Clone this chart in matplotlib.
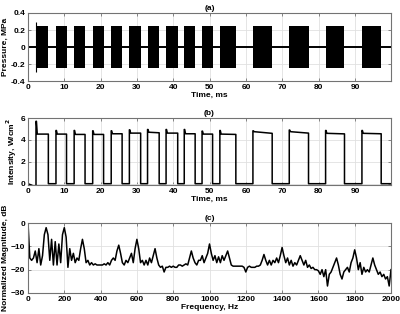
import numpy as np
import matplotlib
matplotlib.use("Agg")
import matplotlib.pyplot as plt

# ---------------- data ----------------
# pulse timing (ms)
pulse_start = [2.2, 7.7, 12.7, 17.8, 22.9, 27.9, 32.9, 38.0, 43.0, 47.9, 52.8, 61.9, 71.9, 81.9, 91.9]
pulse_end = [5.6, 10.6, 15.7, 20.8, 25.9, 31.0, 36.1, 41.2, 46.0, 50.8, 57.2, 67.2, 77.2, 87.1, 97.2]
# pressure amplitude (MPa)
pressure_amp = [0.25] * 15
pressure_spike_t = [2.2]
pressure_spike_amp = [0.29]
# intensity (W/cm^2): overshoot at onset, level just after, level at end
int_peak = [5.7, 4.86, 4.86, 4.83, 4.83, 4.92, 4.95, 4.95, 4.95, 4.8, 4.86, 4.83, 4.9, 4.86, 4.86]
int_level = [4.53, 4.53, 4.5, 4.5, 4.56, 4.62, 4.7, 4.62, 4.56, 4.53, 4.53, 4.75, 4.75, 4.6, 4.6]
int_end = [4.53, 4.53, 4.5, 4.5, 4.56, 4.62, 4.65, 4.62, 4.56, 4.53, 4.5, 4.6, 4.62, 4.55, 4.56]

# spectrum (Hz, dB)
freq = np.arange(0, 2001, 10)
mag = [
    0, -15, -16, -15, -12, -17, -11, -18, -14, -5,
    -2, -5, -16, -7, -18, -8, -18, -9, -17, -5,
    -2, -6, -19, -11, -16, -13, -17, -15, -16, -11,
    -7, -11, -17, -16, -18, -17, -18, -17.5, -18, -18,
    -18, -18, -17.5, -18, -17, -18, -16, -15, -16, -12,
    -9.5, -13, -17, -18, -16, -17, -15, -13, -17, -11,
    -7, -11, -17, -16, -18, -16, -18, -15, -17, -14,
    -11, -15, -18, -19, -18.5, -21, -19, -19, -18.5, -19,
    -18.5, -19, -19, -18, -18, -18.5, -18, -17.5, -18, -15,
    -12, -15, -17, -18, -16, -16, -14, -17, -15, -13,
    -9, -13, -16, -14, -17, -14.5, -17, -14, -16, -14,
    -12, -15, -18, -18.5, -18.5, -18.5, -18.5, -18.5, -18.5, -19,
    -21, -19, -18.5, -19, -19, -19, -18.5, -18.5, -18, -16,
    -13.5, -16, -18, -16, -18, -16, -17, -15, -17, -14,
    -10.5, -14, -17, -15, -18, -16, -18.5, -17, -18, -16,
    -14, -16, -18, -16, -19, -18, -19.5, -19, -20, -20,
    -20.5, -22, -20, -23, -20, -27, -22, -21, -19, -17,
    -15, -18, -22, -24, -21, -20, -19, -21, -17, -15,
    -11.5, -15, -20, -17, -22, -19, -21, -20, -21, -18,
    -15, -18, -20, -22, -21, -23, -22, -24, -23, -27,
    -20,
]

time_ticks = list(range(0, 91, 10))
freq_ticks = list(range(0, 2001, 200))

# ---------------- style ----------------
plt.rcParams['font.family'] = ['Liberation Sans', 'DejaVu Sans']
plt.rcParams['font.weight'] = 'bold'
plt.rcParams['font.size'] = 6
FS = 6
spine_c = '0.45'
grid_c = '0.88'

fig = plt.figure(figsize=(4.0, 3.14), dpi=100)
L, W = 0.070, 0.9075
ax_a = fig.add_axes([L, 0.742, W, 0.2166])
ax_b = fig.add_axes([L, 0.4108, W, 0.2134])
ax_c = fig.add_axes([L, 0.0669, W, 0.2229])


def style(ax):
    for s in ax.spines.values():
        s.set_color(spine_c)
        s.set_linewidth(0.8)
    ax.tick_params(direction='in', length=2.5, width=0.6, color=spine_c,
                   top=True, right=True, labelsize=FS, pad=2)
    ax.grid(True, color=grid_c, linewidth=0.6)
    ax.set_axisbelow(True)
    for t in ax.get_xticklabels() + ax.get_yticklabels():
        t.set_fontweight('bold')


# (a) pressure
ax_a.axhline(0, color='black', linewidth=1.4, zorder=2)
for s, e, a in zip(pulse_start, pulse_end, pressure_amp):
    ax_a.fill_between([s, e], [-a, -a], [a, a], color='black', linewidth=0, zorder=3)
ax_a.vlines(pressure_spike_t, [-v for v in pressure_spike_amp], pressure_spike_amp,
            color='black', linewidth=0.8, zorder=3)
ax_a.set_xlim(0, 99.9)
ax_a.set_ylim(-0.4, 0.4)
ax_a.set_xticks(time_ticks)
ax_a.set_yticks([-0.4, -0.2, 0, 0.2, 0.4])
ax_a.set_yticklabels(['-0.4', '-0.2', '0', '0.2', '0.4'])
ax_a.set_ylabel('Pressure, MPa', fontsize=FS, fontweight='bold', labelpad=1)
ax_a.set_xlabel('Time, ms', fontsize=FS, fontweight='bold', labelpad=1)
ax_a.set_title('(a)', fontsize=FS, fontweight='bold', pad=2)
style(ax_a)

# (b) intensity
tx, ty = [0.0], [0.0]
for i, (s, e) in enumerate(zip(pulse_start, pulse_end)):
    tx += [s, s, s + 0.12, s + 0.35, e, e]
    ty += [0 if i else -0.3, int_peak[i], int_peak[i], int_level[i], int_end[i], 0]
tx += [99.9]
ty += [0]
ax_b.plot(tx, ty, color='black', linewidth=1.1)
ax_b.set_xlim(0, 99.9)
ax_b.set_ylim(-0.12, 6)
ax_b.set_xticks(time_ticks)
ax_b.set_yticks([0, 2, 4, 6])
ax_b.set_ylabel('Intensity, W/cm$^\\mathbf{2}$', fontsize=FS, fontweight='bold', labelpad=1)
ax_b.set_xlabel('Time, ms', fontsize=FS, fontweight='bold', labelpad=1)
ax_b.set_title('(b)', fontsize=FS, fontweight='bold', pad=2)
style(ax_b)

# (c) spectrum
ax_c.plot(freq, mag, color='black', linewidth=1.1)
ax_c.set_xlim(0, 2000)
ax_c.set_ylim(-30, 0)
ax_c.set_xticks(freq_ticks)
ax_c.set_yticks([-30, -20, -10, 0])
ax_c.set_ylabel('Normalized Magnitude, dB', fontsize=FS, fontweight='bold', labelpad=1)
ax_c.set_xlabel('Frequency, Hz', fontsize=FS, fontweight='bold', labelpad=1)
ax_c.set_title('(c)', fontsize=FS, fontweight='bold', pad=2)
style(ax_c)

fig.savefig('out.png', dpi=100)
